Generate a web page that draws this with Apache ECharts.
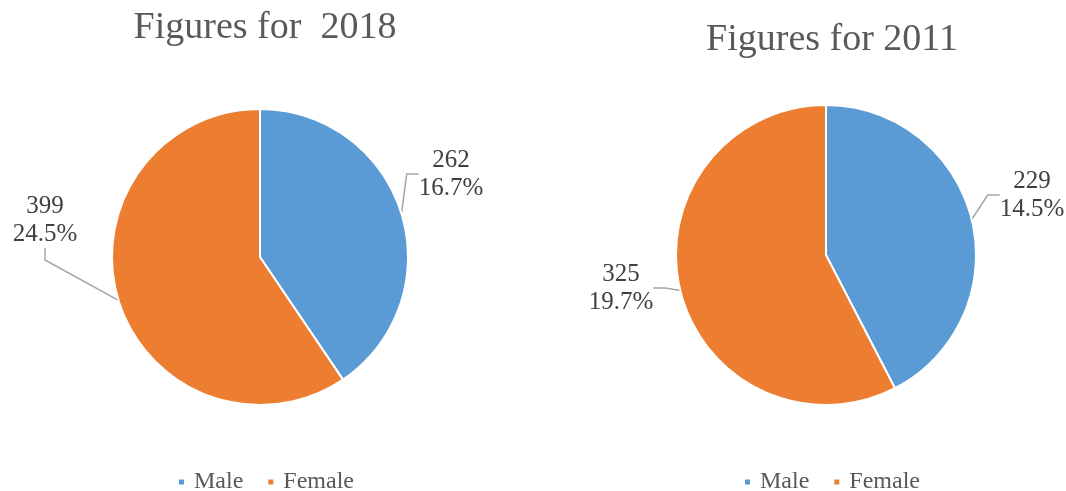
<!DOCTYPE html>
<html>
<head>
<meta charset="utf-8">
<script src="https://cdn.jsdelivr.net/npm/echarts@6/dist/echarts.min.js"></script>
<style>
  html, body { margin: 0; padding: 0; background: #fff; }
  #main { width: 1066px; height: 491px; }
</style>
</head>
<body>
<div id="main"></div>
<script>
// 数据 (扇区大小按百分比, 标签显示人数 + 百分比)
var categories = ['Male', 'Female'];
var counts2018 = [262, 399];
var pct2018 = [16.7, 24.5];
var counts2011 = [229, 325];
var pct2011 = [14.5, 19.7];

var font = 'Liberation Serif';
var colors = ['#5B9BD5', '#ED7D31'];

// 标签位置 (样式)
var labelPos2018 = [[451, 174], [45, 220]];
var labelPos2011 = [[1032, 195], [621, 288]];

function makeData(counts, pcts) {
  return categories.map(function (c, i) {
    return { name: c, value: pcts[i], count: counts[i] };
  });
}

function pieSeries(counts, pcts, center, radius, pos) {
  return {
    type: 'pie',
    center: center,
    radius: radius,
    startAngle: 90,
    clockwise: true,
    itemStyle: { borderColor: '#fff', borderWidth: 2 },
    label: {
      show: true,
      position: 'outside',
      fontFamily: font,
      fontSize: 25,
      lineHeight: 28,
      color: '#404040',
      align: 'center',
      overflow: 'none',
      formatter: function (p) { return p.data.count + '\n' + p.value.toFixed(1) + '%'; }
    },
    labelLine: { show: true, length: 10, length2: 12, lineStyle: { color: '#a6a6a6', width: 1.5 } },
    labelLayout: function (p) {
      var xy = pos[p.dataIndex];
      return { x: xy[0], y: xy[1], align: 'center', verticalAlign: 'middle' };
    },
    emphasis: { scale: false },
    data: makeData(counts, pcts)
  };
}

var titleStyle = { fontFamily: font, fontSize: 38, fontWeight: 'normal', color: '#595959' };
var legendBase = {
  data: categories, top: 470, padding: 0, icon: 'rect', itemWidth: 7, itemHeight: 7, itemGap: 23,
  textStyle: { fontFamily: font, fontSize: 24, color: '#595959', padding: [0, 0, 0, 4] }
};

var myChart = echarts.init(document.getElementById('main'));
var option = {
  color: colors,
  animation: false,
  title: [
    { text: 'Figures for  2018', left: 260, top: 4, textAlign: 'center', textStyle: titleStyle },
    { text: 'Figures for 2011', left: 827, top: 16, textAlign: 'center', textStyle: titleStyle }
  ],
  legend: [
    Object.assign({ left: 177 }, legendBase),
    Object.assign({ left: 743 }, legendBase)
  ],
  series: [
    pieSeries(counts2018, pct2018, [260, 257], 148, labelPos2018),
    pieSeries(counts2011, pct2011, [826, 255], 150, labelPos2011)
  ]
};
myChart.setOption(option);
</script>
</body>
</html>
